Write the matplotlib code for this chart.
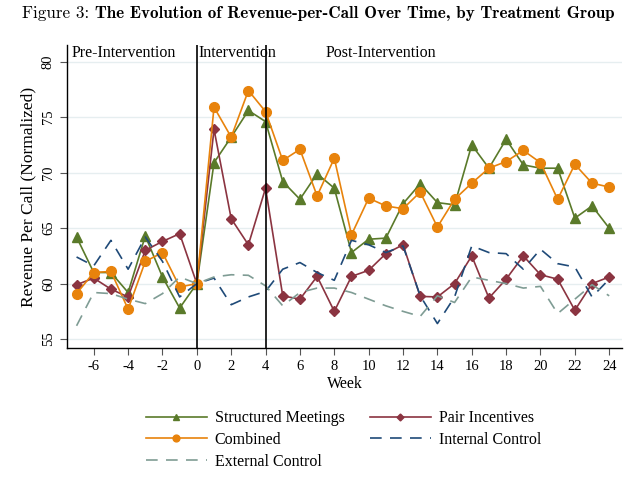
import matplotlib
matplotlib.use('Agg')
import matplotlib.pyplot as plt

# Wochen relativ zum Start der Intervention
weeks = list(range(-7, 25))

structured = [64.2, 61.0, 61.0, 59.2, 64.3, 60.6, 57.8, 60.0,
              70.9, 73.2, 75.6, 74.6, 69.2, 67.6, 69.9, 68.6, 62.8, 64.0, 64.1, 67.2,
              69.0, 67.3, 67.1, 72.5, 70.4, 73.0, 70.7, 70.4, 70.4, 65.9, 67.0, 65.0]
pair = [59.9, 60.5, 59.5, 58.8, 63.0, 63.8, 64.5, 60.0,
        73.9, 65.85, 63.5, 68.6, 58.9, 58.6, 60.65, 57.5, 60.65, 61.2, 62.7, 63.5,
        58.85, 58.8, 60.0, 62.5, 58.7, 60.4, 62.5, 60.8, 60.4, 57.6, 60.0, 60.6]
combined = [59.1, 61.0, 61.1, 57.7, 62.0, 62.8, 59.7, 60.0,
            75.9, 73.2, 77.4, 75.5, 71.1, 72.1, 67.9, 71.3, 64.4, 67.7, 67.0, 66.75,
            68.25, 65.1, 67.6, 69.05, 70.4, 71.0, 72.0, 70.9, 67.6, 70.75, 69.05, 68.7]
internal = [62.4, 61.6, 63.9, 61.3, 64.2, 62.0, 58.8, 60.0,
            60.5, 58.1, 58.8, 59.3, 61.3, 61.9, 61.0, 60.3, 63.9, 63.5, 62.8, 63.4,
            58.9, 56.4, 58.8, 63.4, 62.8, 62.7, 61.3, 63.1, 61.8, 61.5, 58.8, 60.4]
external = [56.2, 59.2, 59.1, 58.6, 58.2, 59.1, 60.6, 60.0,
            60.6, 60.8, 60.75, 59.8, 58.0, 59.2, 59.6, 59.6, 59.2, 58.6, 58.0, 57.5,
            57.05, 58.9, 58.3, 60.6, 60.3, 60.0, 59.6, 59.75, 57.3, 58.6, 59.9, 58.9]

xticks = list(range(-6, 25, 2))
yticks = [55, 60, 65, 70, 75, 80]

plt.rcParams['font.family'] = 'Liberation Serif'
plt.rcParams['axes.unicode_minus'] = False

fig = plt.figure(figsize=(6.42, 4.84), dpi=100)
ax = fig.add_axes([0.104, 0.281, 0.865, 0.626])

# Gitterlinien
for yv in yticks:
    ax.axhline(yv, color='#e6eef0', linewidth=1.0, zorder=0)

l_sm, = ax.plot(weeks, structured, color='#5a7a2a', linewidth=1.2, marker='^', markersize=7,
                label='Structured Meetings', zorder=3)
l_pi, = ax.plot(weeks, pair, color='#8b3441', linewidth=1.2, marker='D', markersize=5,
                label='Pair Incentives', zorder=3)
l_co, = ax.plot(weeks, combined, color='#e8830c', linewidth=1.2, marker='o', markersize=7,
                label='Combined', zorder=4)
l_in, = ax.plot(weeks, internal, color='#1f4a78', linewidth=1.2, dashes=(7, 5),
                label='Internal Control', zorder=5)
l_ex, = ax.plot(weeks, external, color='#7f9c94', linewidth=1.2, dashes=(7, 5),
                label='External Control', zorder=5)

# Interventionsphase
ax.axvline(0, color='black', linewidth=1.2, zorder=6)
ax.axvline(4, color='black', linewidth=1.2, zorder=6)

ax.text(-7.3, 81.5, 'Pre-Intervention', fontsize=11.5, va='top', ha='left')
ax.text(0.1, 81.5, 'Intervention', fontsize=11.5, va='top', ha='left')
ax.text(7.5, 81.5, 'Post-Intervention', fontsize=11.5, va='top', ha='left')

ax.set_xlim(-7.57, 24.75)
ax.set_ylim(54.2, 81.5)
ax.set_xticks(xticks)
ax.set_yticks(yticks)
ax.tick_params(axis='both', labelsize=10.5, length=5, width=0.8, color='#555555')
plt.setp(ax.get_yticklabels(), rotation=90, va='center')
ax.spines['top'].set_visible(False)
ax.spines['right'].set_visible(False)
ax.spines['left'].set_linewidth(1.0)
ax.spines['bottom'].set_linewidth(1.0)

ax.set_xlabel('Week', fontsize=11.5, labelpad=2)
ax.set_ylabel('Revenue Per Call (Normalized)', fontsize=12.5, labelpad=4)

# Legende zeilenweise wie im Original
handles = [l_sm, l_co, l_ex, l_pi, l_in]
fig.legend(handles=handles, labels=[h.get_label() for h in handles],
           loc='upper center', bbox_to_anchor=(0.535, 1 - 396 / 484), ncol=2, frameon=False,
           fontsize=11.5, handlelength=3.8, handletextpad=0.5, columnspacing=1.6,
           labelspacing=0.35, markerscale=0.7, bbox_transform=fig.transFigure)

# Titel: "Figure 3:" normal, Rest fett
t1 = fig.text(22 / 642, 1 - 18 / 484, 'Figure 3:', family='cmr10', fontsize=12.3, va='baseline')
fig.canvas.draw()
bb = t1.get_window_extent()
fig.text((bb.x1 + 6) / 642, 1 - 18 / 484, 'The Evolution of Revenue-per-Call Over Time, by Treatment Group',
         family='cmb10', fontsize=12.3, va='baseline')

fig.savefig('out.png', dpi=100)
